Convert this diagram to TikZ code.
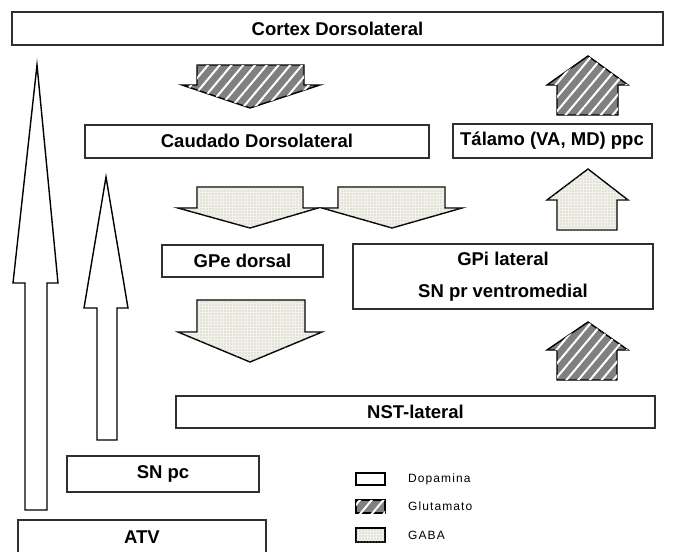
\documentclass[tikz,border=0pt]{standalone}
\usepackage{fontspec}
\setmainfont{Liberation Sans}
\usetikzlibrary{patterns.meta}
\definecolor{hatchgray}{HTML}{808080}
\definecolor{gabafill}{HTML}{F2F2EA}
\definecolor{gabadot}{HTML}{B4B4A4}
\definecolor{boxline}{HTML}{303030}
\begin{document}
\begin{tikzpicture}[x=1pt,y=-1pt,
  box/.style={draw=boxline,line width=2pt,fill=white,inner sep=0pt,
    font=\fontsize{18.5}{32}\selectfont\bfseries,align=center},
  arr/.style={draw=black,line width=1.4pt,line join=miter},
  dopa/.style={arr,fill=white},
  glu/.style={arr,fill=hatchgray,postaction={pattern={Lines[angle=50,distance=9pt,line width=2pt]},pattern color=white}},
  gaba/.style={arr,fill=gabafill,postaction={pattern={Dots[distance=3pt,radius=0.6pt]},pattern color=gabadot}},
  legtext/.style={anchor=west,inner sep=0pt,font=\fontsize{12}{14}\selectfont\addfontfeature{LetterSpace=9}}
  ]
\useasboundingbox (0,0) rectangle (692,551);

% boxes
\node[box,minimum width=651pt,minimum height=33pt] (cortex) at (337.5,28.5) {Cortex Dorsolateral};
\node[box,minimum width=344pt,minimum height=33pt] (caudado) at (257,141) {Caudado Dorsolateral};
\node[box,minimum width=199pt,minimum height=34pt] (talamo) at (552,141) {Tálamo (VA, MD) ppc};
\node[box,minimum width=161pt,minimum height=32pt] (gpe) at (242.5,261) {GPe dorsal};
\node[box,minimum width=300pt,minimum height=65pt] (gpi) at (503,276.5) {GPi lateral\\SN pr ventromedial};
\node[box,minimum width=479pt,minimum height=32pt] (nst) at (415.5,412) {NST-lateral};
\node[box,minimum width=192pt,minimum height=36pt] (snpc) at (163,474) {SN pc};
\node[box,minimum width=248pt,minimum height=34pt] (atv) at (142,537) {ATV};

% dopamine up arrows
\draw[dopa] (25,510) -- (25,283) -- (13,283) -- (37,65) -- (58,283) -- (47,283) -- (47,510) -- cycle;
\draw[dopa] (97,440) -- (97,308) -- (84,308) -- (106,177) -- (128,308) -- (117,308) -- (117,440) -- cycle;

% glutamate arrows
\draw[glu] (197,65) -- (304,65) -- (304,85) -- (320,85) -- (250,108) -- (182,85) -- (197,85) -- cycle;
\draw[glu] (557,115) -- (557,85) -- (547,85) -- (588,56) -- (628,85) -- (618,85) -- (618,115) -- cycle;
\draw[glu] (557,380) -- (557,350) -- (547,350) -- (588,322) -- (628,350) -- (617,350) -- (617,380) -- cycle;

% GABA arrows
\draw[gaba] (197,187) -- (303,187) -- (303,208) -- (318,208) -- (250,228) -- (178,208) -- (197,208) -- cycle;
\draw[gaba] (338,187) -- (445,187) -- (445,208) -- (462,208) -- (392,228) -- (322,208) -- (338,208) -- cycle;
\draw[gaba] (197,300) -- (305,300) -- (305,332) -- (322,332) -- (250,362) -- (178,332) -- (197,332) -- cycle;
\draw[gaba] (557,230) -- (557,200) -- (547,200) -- (588,169) -- (628,200) -- (617,200) -- (617,230) -- cycle;

% legend
\draw[arr,line width=1.2pt,fill=white] (356,473) rectangle (385,485);
\draw[glu,line width=1.2pt] (356,500) rectangle (385,513);
\draw[gaba,line width=1.2pt] (356,528) rectangle (385,542);
\node[legtext] (ldopa) at (408,479) {Dopamina};
\node[legtext] (lglu) at (408,506.5) {Glutamato};
\node[legtext] (lgaba) at (408,535) {GABA};
\end{tikzpicture}
\end{document}
